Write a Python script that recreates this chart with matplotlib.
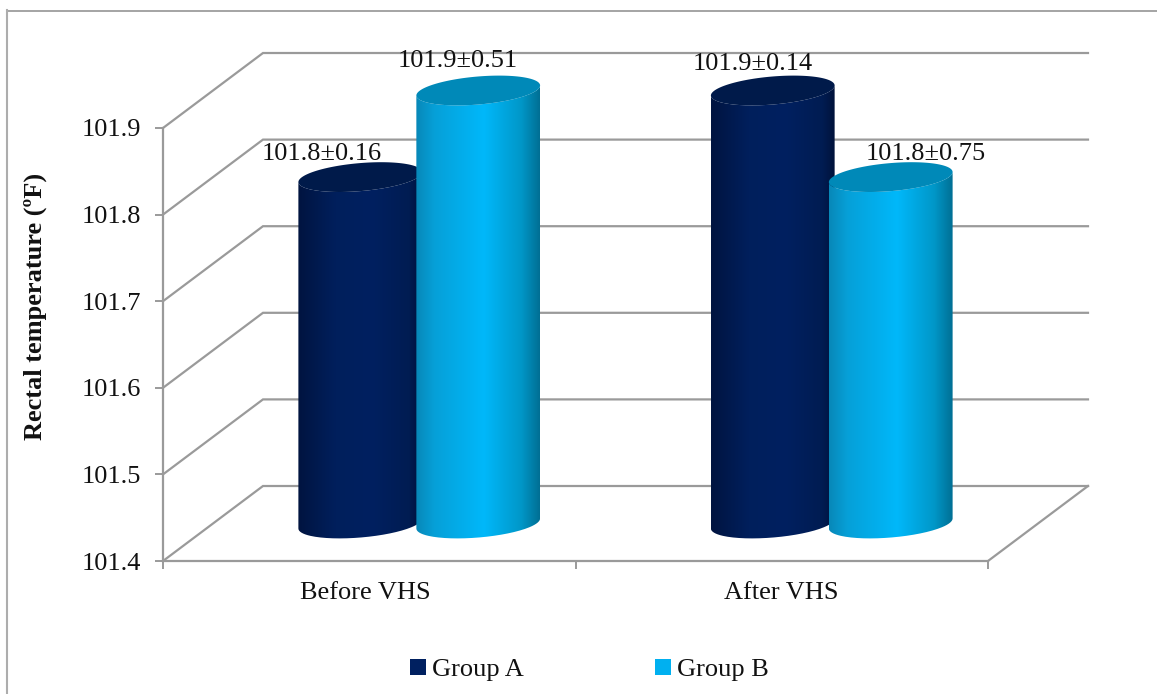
import numpy as np
import matplotlib
matplotlib.use("Agg")
import matplotlib.pyplot as plt
from matplotlib.colors import LinearSegmentedColormap
from matplotlib.lines import Line2D
from matplotlib.patches import Patch, PathPatch
from matplotlib.path import Path

# === DATA ===
categories = ["Before VHS", "After VHS"]
group_names = ["Group A", "Group B"]
group_a = [101.8, 101.9]
group_b = [101.9, 101.8]
sd_a = ["0.16", "0.14"]
sd_b = ["0.51", "0.75"]
y_ticks = [101.4, 101.5, 101.6, 101.7, 101.8, 101.9]

# === STYLE ===
W, H = 1157, 694
FONT = "Liberation Serif"
GRID = "#9a9a9a"
TEXT = "#111111"
FS = 19
DEPTH_X, DEPTH_Y = 0.2424, 0.0866  # back wall offset, in data units
BAR_W = 0.30
BAR_STEP = 0.143
ELL_B, ELL_SHEAR = 0.0162, 0.0058

dark_map = LinearSegmentedColormap.from_list("dark", [
    (0, "#001440"), (0.3, "#001f5c"), (0.6, "#002060"), (0.9, "#001c52"), (1, "#00123a")])
light_map = LinearSegmentedColormap.from_list("light", [
    (0, "#0888b8"), (0.15, "#06a0d8"), (0.55, "#00b8fa"), (0.85, "#0097c8"), (1, "#006f94")])
TOP_DARK, TOP_LIGHT = "#001a4a", "#0089b8"

plt.rcParams["font.family"] = [FONT, "DejaVu Sans"]
fig = plt.figure(figsize=(W / 100, H / 100), dpi=100)
ax = fig.add_axes([163 / W, 1 - 561 / H, 825 / W, 433 / H])
ax.set_autoscale_on(False)
ax.set_xlim(0, 2)
ax.set_ylim(y_ticks[0], y_ticks[-1])
ax.patch.set_visible(False)


def ellipse(cx, cy, t):
    return np.column_stack([cx + BAR_W / 2 * np.cos(t),
                            cy + ELL_SHEAR * np.cos(t) + ELL_B * np.sin(t)])


def draw_cylinder(x, value, base, cmap, top_color, z):
    cx = x + DEPTH_X / 2
    cy_top = value + DEPTH_Y / 2
    cy_low = base + DEPTH_Y / 2
    t_low = np.linspace(np.pi, 2 * np.pi, 80)
    # body outline: lower arc of the base, then back along the top rim
    pts = np.vstack([ellipse(cx, cy_low, t_low), ellipse(cx, cy_top, t_low[::-1])])
    body = PathPatch(Path(np.vstack([pts, pts[0]])), fc="none", ec="none", zorder=z)
    ax.add_patch(body)
    im = ax.imshow(np.linspace(0, 1, 256).reshape(1, -1), cmap=cmap, aspect="auto",
                   extent=[cx - BAR_W / 2, cx + BAR_W / 2, base - 0.05, value + 0.1],
                   interpolation="bilinear", zorder=z)
    im.set_clip_box(fig.bbox)
    im.set_clip_path(body)
    t = np.linspace(0, 2 * np.pi, 160)
    ax.add_patch(PathPatch(Path(ellipse(cx, cy_top, t)), fc=top_color, ec="none",
                           zorder=z + 0.1, clip_on=False))


# === WALLS AND FLOOR ===
for v in y_ticks:
    ax.plot([0, DEPTH_X, 2 + DEPTH_X], [v, v + DEPTH_Y, v + DEPTH_Y],
            color=GRID, lw=1.6, clip_on=False, zorder=1, solid_joinstyle="miter")
ax.plot([2, 2 + DEPTH_X], [y_ticks[0], y_ticks[0] + DEPTH_Y],
        color=GRID, lw=1.6, clip_on=False, zorder=1)

# === CYLINDERS ===
base = y_ticks[0]
z = 3
for i in range(len(categories)):
    centre = i + 0.5
    draw_cylinder(centre - BAR_STEP, group_a[i], base, dark_map, TOP_DARK, z)
    draw_cylinder(centre + BAR_STEP, group_b[i], base, light_map, TOP_LIGHT, z + 1)
    z += 2

# === VALUE LABELS ===
label_offsets_a = [(-27.5, 9), (-14.5, 11.5)]
label_offsets_b = [(-15, 13), (25, 8.5)]
for i in range(len(categories)):
    for vals, sds, sign, offs in ((group_a, sd_a, -1, label_offsets_a),
                                  (group_b, sd_b, 1, label_offsets_b)):
        ax.annotate(f"{vals[i]:.1f}±{sds[i]}",
                    xy=(i + 0.5 + sign * BAR_STEP + DEPTH_X / 2, vals[i] + DEPTH_Y / 2),
                    xytext=offs[i], textcoords="offset points", ha="center", va="bottom",
                    fontsize=FS, color=TEXT, zorder=10, annotation_clip=False)

# === AXES ===
for side in ("top", "right"):
    ax.spines[side].set_visible(False)
for side in ("left", "bottom"):
    ax.spines[side].set_color(GRID)
    ax.spines[side].set_linewidth(1.6)
ax.set_yticks(y_ticks)
ax.set_yticklabels([f"{v:.1f}" for v in y_ticks])
ax.set_xticks([0, 1, 2])
ax.set_xticklabels([])
ax.set_xticks([0.49, 1.5], minor=True)
ax.set_xticklabels(categories, minor=True)
ax.tick_params(axis="y", length=5.8, width=1.4, color=GRID, pad=10, labelsize=FS, labelcolor=TEXT)
ax.tick_params(axis="x", which="major", length=5.8, width=1.4, color=GRID)
ax.tick_params(axis="x", which="minor", length=0, pad=15, labelsize=FS, labelcolor=TEXT)
fig.text(35.5 / W, 1 - 306 / H, "Rectal temperature (ºF)", rotation=90, ha="center", va="center",
         fontsize=FS, fontweight="bold", color=TEXT)

# === LEGEND ===
handles = [Patch(fc="#002060"), Patch(fc="#00b0f0")]
fig.legend(handles, group_names, loc="center", bbox_to_anchor=(589.5 / W, 1 - 670 / H), ncol=2,
           frameon=False, fontsize=FS, handlelength=0.6, handleheight=0.6,
           handletextpad=0.25, columnspacing=4.95, labelcolor=TEXT)

# === OUTER FRAME: top and left edges only ===
fig.add_artist(Line2D([7.5 / W, 1], [1 - 10.5 / H, 1 - 10.5 / H], transform=fig.transFigure,
                      color="#8c8c8c", lw=1.1))
fig.add_artist(Line2D([7 / W, 7 / W], [0, 1 - 10 / H], transform=fig.transFigure,
                      color="#adadad", lw=1.5))

fig.savefig("out.png", dpi=100)
